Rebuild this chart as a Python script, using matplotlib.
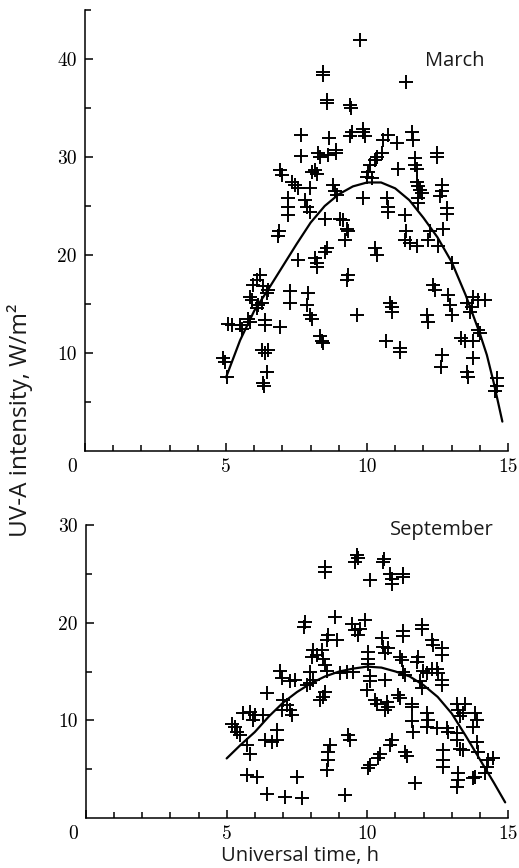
import matplotlib
matplotlib.use("Agg")
import matplotlib.pyplot as plt
from matplotlib.ticker import MultipleLocator, FixedLocator

# ---------------- data ----------------
march_time = [
    9.75, 11.40, 8.43, 8.43, 8.57, 8.57, 9.40, 9.45, 7.66, 8.66,
    9.46, 9.40, 9.87, 9.87, 9.93, 7.65, 8.27, 8.33, 8.63, 8.90, 8.90,
    6.91, 6.97, 7.33, 7.45, 7.56, 7.98, 8.04, 8.16, 8.21, 8.80, 8.86, 8.92,
    7.21, 7.21, 7.21, 7.80, 7.86, 7.98, 8.51, 9.04, 9.16,
    10.74, 11.05, 10.57, 10.52, 10.34, 10.28, 10.10, 10.05, 9.99, 10.16,
    9.87, 10.70, 10.75, 10.75, 11.35, 11.11, 11.70, 11.70, 11.76,
    11.58, 11.62, 12.47, 12.47, 11.76, 11.80, 11.88, 11.94, 11.82, 11.82,
    12.65, 12.65, 12.59, 12.82, 12.82,
    6.89, 6.86, 9.28, 9.34, 9.22, 7.56, 8.16, 8.21, 8.21, 8.57, 8.51,
    9.34, 9.28, 9.63, 6.21, 6.09, 5.97, 6.32, 6.50, 6.44,
    5.85, 5.91, 6.15, 6.09, 6.26, 7.27, 7.27, 7.92, 7.88, 7.98, 8.04,
    6.38, 6.38, 6.91, 5.79, 5.85, 5.08, 5.20, 5.50, 5.56,
    8.33, 8.39, 8.45, 6.26, 6.50, 6.38, 4.90, 4.96, 5.02, 6.44, 6.32, 6.35,
    11.40, 11.35, 11.52, 11.76, 12.17, 12.23, 12.68, 12.53, 13.00,
    10.28, 10.34, 10.82, 10.87, 10.87, 12.11, 12.17, 12.35, 12.41,
    12.88, 12.94, 13.00, 10.69, 11.17, 11.17, 12.65, 12.61,
    13.53, 13.77, 13.71, 13.95, 14.18, 13.65, 13.95, 14.00,
    13.35, 13.48, 13.77, 13.77, 13.53, 13.59, 14.60, 14.60, 14.54,
]
march_uva = [
    41.9, 37.7, 38.7, 38.4, 35.8, 35.5, 35.3, 35.0, 32.2, 31.9,
    32.6, 32.1, 32.9, 32.6, 32.1, 30.1, 30.4, 30.0, 30.2, 30.7, 30.4,
    28.7, 28.2, 27.5, 27.1, 26.8, 26.8, 28.5, 28.7, 28.3, 27.1, 26.5, 26.1,
    25.8, 24.9, 24.1, 25.6, 24.9, 24.4, 23.7, 23.7, 23.6,
    32.2, 31.4, 31.7, 30.4, 30.0, 29.7, 29.2, 28.5, 28.0, 27.9,
    25.8, 25.8, 24.9, 24.4, 24.1, 28.8, 29.9, 29.2, 28.8,
    32.6, 31.7, 30.4, 30.0, 27.5, 27.0, 26.6, 26.3, 25.8, 25.3,
    27.1, 26.5, 26.0, 24.8, 24.2,
    22.4, 21.9, 22.7, 22.4, 21.5, 19.5, 19.7, 19.2, 18.8, 20.7, 20.3,
    18.0, 17.4, 13.9, 18.0, 17.4, 16.9, 16.8, 16.4, 16.1,
    15.7, 15.4, 14.9, 14.6, 15.1, 16.3, 15.1, 16.1, 14.9, 13.9, 13.5,
    13.4, 12.9, 12.7, 13.5, 13.2, 13.0, 12.9, 12.9, 12.5,
    11.7, 11.2, 11.0, 10.3, 10.3, 10.0, 9.5, 9.1, 7.6, 8.1, 6.9, 6.6,
    22.4, 21.5, 21.2, 20.9, 21.5, 22.4, 22.7, 20.9, 19.2,
    20.7, 20.0, 15.1, 14.7, 14.2, 13.9, 13.2, 16.9, 16.4,
    15.9, 14.9, 13.9, 11.2, 10.5, 10.1, 9.8, 8.6,
    15.1, 15.7, 14.7, 15.4, 15.4, 14.2, 12.3, 12.0,
    11.5, 11.2, 11.2, 9.5, 8.1, 7.6, 7.4, 6.6, 6.1,
]
march_fit_time = [5.0, 5.5, 6.0, 6.5, 7.0, 7.5, 8.0, 8.5, 9.0, 9.5, 10.0,
                  10.5, 11.0, 11.5, 12.0, 12.5, 13.0, 13.5, 14.0, 14.25, 14.5, 14.8]
march_fit_uva = [7.5, 11.3, 14.3, 16.5, 18.8, 21.1, 23.3, 25.0, 26.2, 27.0, 27.4,
                 27.4, 26.8, 25.6, 23.8, 21.8, 19.3, 15.9, 12.0, 9.8, 6.9, 3.0]

sep_time = [
    8.50, 8.50, 9.62, 9.56, 9.68, 10.57, 10.60, 10.10, 10.81, 10.86, 10.86,
    11.28, 11.28, 7.79, 7.76, 8.85, 9.92, 9.74, 9.56, 9.44, 9.68,
    11.93, 11.93, 11.28, 11.28, 12.29, 12.35, 12.64, 12.64,
    10.51, 10.57, 10.75, 10.63, 10.04, 10.04, 10.04, 11.16, 11.22,
    11.81, 11.75, 11.28, 11.34, 11.99, 12.11, 12.29, 12.46, 12.52, 12.64, 12.64,
    10.10, 10.10, 9.98, 10.63, 11.87, 11.93,
    10.27, 10.33, 10.69, 10.75, 10.63, 11.10, 11.16, 11.57, 11.57,
    13.18, 13.47, 13.24, 13.41, 13.30, 13.83, 13.89, 13.77,
    12.11, 12.17, 12.11, 12.46, 12.82, 12.88, 11.57, 11.63,
    13.18, 13.18, 13.30, 13.41, 13.89, 13.95, 12.70, 12.70, 12.70,
    14.30, 14.48, 14.24, 14.18, 13.77, 13.83, 13.24, 13.24, 13.18,
    10.87, 10.81, 11.34, 11.40, 10.45, 10.39, 10.10, 10.04, 11.70,
    8.61, 8.55, 8.91, 8.08, 8.20, 8.44, 8.50, 8.55, 8.02, 8.38,
    7.96, 8.08, 7.96, 7.85, 9.03, 9.27, 9.50, 8.50, 8.44, 8.32,
    6.90, 6.96, 7.25, 7.43, 6.42, 7.01, 7.13, 6.96, 7.25, 7.31,
    5.59, 5.83, 6.01, 5.95, 6.30, 5.30, 5.36, 5.47, 5.20,
    6.36, 6.60, 6.78, 6.78, 5.71, 5.83, 9.32, 9.38,
    8.67, 8.61, 8.61, 8.55, 5.71, 6.07, 7.51, 6.42, 7.07, 7.67, 9.21,
]
sep_uva = [
    25.7, 25.2, 26.9, 26.2, 26.6, 26.2, 26.5, 24.4, 25.0, 24.5, 24.0,
    25.0, 24.7, 20.1, 19.6, 20.6, 20.3, 19.4, 19.2, 19.9, 18.7,
    19.8, 19.4, 19.1, 18.6, 18.2, 17.7, 17.4, 16.7,
    18.4, 17.5, 17.4, 16.9, 17.0, 16.3, 15.8, 16.5, 16.2,
    16.5, 16.0, 15.0, 14.6, 15.1, 14.8, 15.3, 15.3, 14.8, 14.1, 13.6,
    14.5, 14.0, 13.1, 14.1, 14.0, 13.3,
    12.1, 11.7, 11.9, 11.4, 11.1, 12.6, 12.3, 11.7, 11.4,
    11.7, 11.7, 11.1, 10.7, 10.4, 10.7, 10.0, 9.3,
    10.7, 10.0, 9.3, 9.2, 9.2, 8.8, 9.9, 8.8,
    8.7, 8.0, 7.1, 7.0, 7.8, 6.8, 7.0, 5.9, 5.2,
    5.9, 6.1, 5.2, 4.6, 4.1, 4.2, 4.6, 3.9, 3.2,
    8.0, 7.5, 6.8, 6.3, 6.6, 6.1, 5.4, 5.1, 3.6,
    18.7, 18.2, 18.2, 17.2, 16.7, 16.3, 15.7, 15.1, 16.5, 17.2,
    15.0, 14.1, 13.8, 13.6, 14.8, 14.9, 15.0, 12.9, 12.4, 12.1,
    15.1, 14.3, 14.0, 14.1, 12.8, 12.1, 11.6, 11.1, 11.1, 10.5,
    10.7, 10.9, 10.5, 10.0, 10.5, 9.3, 8.8, 8.5, 9.6,
    8.0, 7.8, 8.0, 9.0, 7.5, 6.6, 8.5, 8.0,
    7.5, 6.8, 5.9, 4.9, 4.4, 4.2, 4.2, 2.5, 2.2, 2.0, 2.4,
]
sep_fit_time = [5.0, 5.5, 6.0, 6.5, 7.0, 7.5, 8.0, 8.5, 9.0, 9.5, 10.0,
                10.5, 11.0, 11.5, 12.0, 12.5, 13.0, 13.5, 14.0, 14.5, 14.9]
sep_fit_uva = [6.1, 7.5, 8.8, 10.4, 11.8, 12.9, 13.8, 14.5, 15.0, 15.3, 15.5,
               15.4, 15.0, 14.5, 13.6, 12.4, 10.7, 8.4, 6.0, 3.6, 1.6]

x_ticks = [0, 5, 10, 15]
x_tick_labels = ["", "5", "10", "15"]
march_yticks = [10, 20, 30, 40]
sep_yticks = [10, 20, 30]
panel_titles = ["March", "September"]
x_label = "Universal time, h"
y_label = "UV-A intensity, W/m²"

# ---------------- figure ----------------
W, H = 519, 868
fig = plt.figure(figsize=(W / 100, H / 100), dpi=100)

label_font = "Open Sans"
tick_font = "cmr10"
tick_size = 14

ax1 = fig.add_axes([85 / W, (H - 451) / H, 423 / W, 441 / H])
ax2 = fig.add_axes([86 / W, (H - 818) / H, 422 / W, 293 / H])

panels = [
    (ax1, march_time, march_uva, march_fit_time, march_fit_uva, 45, march_yticks,
     panel_titles[0], (12.06, 39.3)),
    (ax2, sep_time, sep_uva, sep_fit_time, sep_fit_uva, 30, sep_yticks,
     panel_titles[1], (10.8, 29.0)),
]

for ax, t, v, ft, fv, ymax, yt, title, tpos in panels:
    ax.plot(t, v, linestyle="none", marker="+", markersize=10.5,
            markeredgewidth=1.4, color="black", clip_on=False)
    ax.plot(ft, fv, color="black", linewidth=1.6, solid_capstyle="round",
            solid_joinstyle="round")
    ax.set_xlim(0, 15)
    ax.set_ylim(0, ymax)
    for s in ("top", "right"):
        ax.spines[s].set_visible(False)
    for s in ("left", "bottom"):
        ax.spines[s].set_linewidth(1.1)
    ax.xaxis.set_major_locator(FixedLocator(x_ticks))
    ax.set_xticklabels(x_tick_labels)
    ax.xaxis.set_minor_locator(MultipleLocator(1))
    ax.yaxis.set_major_locator(FixedLocator(yt))
    ax.yaxis.set_minor_locator(FixedLocator([m for m in range(5, ymax + 1, 10)]))
    ax.tick_params(which="both", direction="in", width=1.1, color="black")
    ax.tick_params(which="major", length=6)
    ax.tick_params(which="minor", length=4.5)
    ax.tick_params(axis="x", which="major", pad=5, labelsize=tick_size)
    ax.tick_params(axis="y", which="major", pad=6, labelsize=tick_size)
    for lab in ax.get_xticklabels() + ax.get_yticklabels():
        lab.set_fontfamily(tick_font)
    ax.annotate("0", xy=(0, 0), xycoords="axes fraction", xytext=(-9, -5),
                textcoords="offset points", ha="center", va="top",
                fontsize=tick_size, fontfamily=tick_font)
    ax.text(tpos[0], tpos[1], title, fontsize=14.5, fontfamily=label_font,
            ha="left", va="baseline", color="#1a1a1a")

fig.text(300 / W, 7 / H, x_label, fontsize=14.5, fontfamily=label_font,
         ha="center", va="baseline", color="#1a1a1a")
fig.text(20 / W, 1 - 420 / H, y_label, fontsize=17.5, fontfamily=label_font,
         ha="center", va="center", rotation=90, color="#1a1a1a")

fig.savefig("out.png", dpi=100)
